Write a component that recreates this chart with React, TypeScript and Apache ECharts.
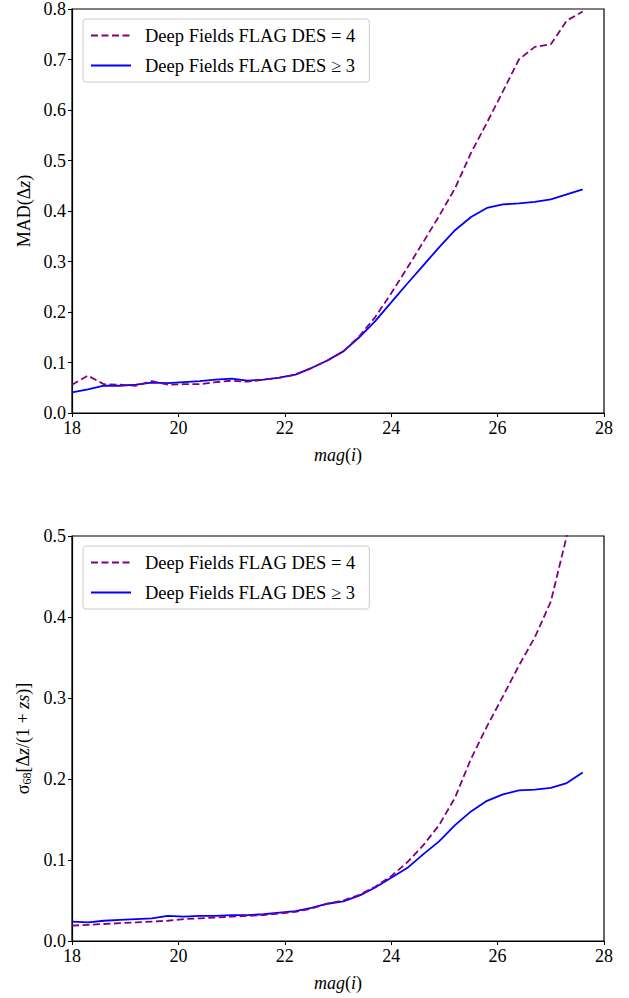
import React, { useEffect, useRef } from "react";
import * as echarts from "echarts";

// magnitude bins (0.3 mag steps)
const mags = [
  18.0, 18.3, 18.6, 18.9, 19.2, 19.5, 19.8, 20.1, 20.4, 20.7, 21.0, 21.3, 21.6,
  21.9, 22.2, 22.5, 22.8, 23.1, 23.4, 23.7, 24.0, 24.3, 24.6, 24.9, 25.2, 25.5,
  25.8, 26.1, 26.4, 26.7, 27.0, 27.3, 27.6,
];

const NAME_FLAG4 = "Deep Fields FLAG DES = 4";
const NAME_FLAG3 = "Deep Fields FLAG DES \u2265 3";

// top panel: MAD(Δz)
const madFlag4 = [
  0.056, 0.074, 0.057, 0.056, 0.054, 0.063, 0.056, 0.057, 0.057, 0.061, 0.064,
  0.062, 0.066, 0.07, 0.076, 0.089, 0.104, 0.122, 0.152, 0.19, 0.237, 0.287,
  0.338, 0.39, 0.445, 0.515, 0.575, 0.637, 0.7, 0.725, 0.73, 0.777, 0.795,
];
const madFlag3 = [
  0.041, 0.047, 0.054, 0.054, 0.056, 0.06, 0.059, 0.061, 0.063, 0.066, 0.068,
  0.064, 0.066, 0.07, 0.076, 0.089, 0.104, 0.122, 0.15, 0.182, 0.219, 0.256,
  0.292, 0.328, 0.362, 0.388, 0.406, 0.413, 0.415, 0.418, 0.423, 0.433, 0.443,
];

// bottom panel: sigma68
const sigFlag4 = [
  0.019, 0.02, 0.021, 0.022, 0.023, 0.024, 0.025, 0.027, 0.028, 0.029, 0.03,
  0.031, 0.032, 0.034, 0.036, 0.04, 0.046, 0.05, 0.057, 0.067, 0.08, 0.097,
  0.118, 0.143, 0.177, 0.225, 0.265, 0.302, 0.34, 0.375, 0.419, 0.5, 0.58,
];
const sigFlag3 = [
  0.024, 0.023, 0.025, 0.026, 0.027, 0.028, 0.031, 0.03, 0.031, 0.031, 0.032,
  0.032, 0.033, 0.035, 0.037, 0.041, 0.046, 0.049, 0.056, 0.066, 0.078, 0.09,
  0.107, 0.123, 0.143, 0.16, 0.173, 0.181, 0.186, 0.187, 0.189, 0.195, 0.208,
];

const xTicks = { min: 18, max: 28, interval: 2 };

const FONT = "'Liberation Serif', 'Times New Roman', 'DejaVu Serif', serif";
const purple = "#800080";
const blue = "#0000ff";

const pairs = (ys: number[]) => mags.map((m, i) => [m, ys[i]]);

const App: React.FC = () => {
  const chartRef = useRef<HTMLDivElement>(null);

  useEffect(() => {
    if (!chartRef.current) return;
    const chart = echarts.init(chartRef.current, undefined, { renderer: "svg" });

    const labelStyle = { color: "#000", fontFamily: FONT, fontSize: 18 };
    const axisLine = { show: true, lineStyle: { color: "#000", width: 1.2 } };
    const axisTick = { show: true, inside: false, length: 4, lineStyle: { color: "#000", width: 1 } };

    const xAxis = (gridIndex: number) => ({
      type: "value",
      gridIndex,
      ...xTicks,
      name: "{i|mag}{n|(}{i|i}{n|)}",
      nameLocation: "middle",
      nameGap: 33,
      nameTextStyle: {
        ...labelStyle,
        rich: {
          i: { fontFamily: FONT, fontSize: 18, fontStyle: "italic", color: "#000" },
          n: { fontFamily: FONT, fontSize: 18, color: "#000" },
        },
      },
      axisLine,
      axisTick,
      splitLine: { show: false },
      axisLabel: { ...labelStyle, margin: 6 },
    });

    const yAxis = (gridIndex: number, max: number, name: string) => ({
      type: "value",
      gridIndex,
      min: 0,
      max,
      interval: 0.1,
      name,
      nameLocation: "middle",
      nameGap: 39,
      nameTextStyle: {
        ...labelStyle,
        rich: {
          n: { fontFamily: FONT, fontSize: 18, color: "#000" },
          i: { fontFamily: FONT, fontSize: 18, fontStyle: "italic", color: "#000" },
          sub: { fontFamily: FONT, fontSize: 12, color: "#000", verticalAlign: "bottom", padding: [8, 0, 0, 0] },
        },
      },
      axisLine,
      axisTick,
      splitLine: { show: false },
      axisLabel: { ...labelStyle, margin: 6, formatter: (v: number) => v.toFixed(1) },
    });

    const legend = (top: number) => ({
      left: 83,
      top,
      orient: "vertical",
      data: [NAME_FLAG4, NAME_FLAG3],
      itemWidth: 40,
      itemHeight: 14,
      itemGap: 11,
      padding: [7, 14, 7, 7],
      backgroundColor: "rgba(255,255,255,0.8)",
      borderColor: "#cccccc",
      borderWidth: 1,
      borderRadius: 3,
      selectedMode: false,
      itemStyle: { opacity: 0 },
      textStyle: { ...labelStyle, fontSize: 18.5, padding: [0, 0, 0, 9] },
    });

    const series = (name: string, ys: number[], idx: number, dashed: boolean) => ({
      name,
      type: "line",
      xAxisIndex: idx,
      yAxisIndex: idx,
      data: pairs(ys),
      symbol: "none",
      showSymbol: false,
      clip: true,
      lineStyle: dashed
        ? { color: purple, width: 1.8, type: [7, 3.5] }
        : { color: blue, width: 1.8, type: "solid" },
      itemStyle: { color: dashed ? purple : blue },
      z: dashed ? 3 : 2,
    });

    chart.setOption({
      animation: false,
      backgroundColor: "#fff",
      grid: [
        { left: 72, top: 9, width: 532, height: 404, show: true, borderColor: "#000", borderWidth: 1.2, backgroundColor: "transparent" },
        { left: 72, top: 536, width: 532, height: 405, show: true, borderColor: "#000", borderWidth: 1.2, backgroundColor: "transparent" },
      ],
      xAxis: [xAxis(0), xAxis(1)],
      yAxis: [
        yAxis(0, 0.8, "{n|MAD(\u0394}{i|z}{n|)}"),
        yAxis(1, 0.5, "{n|\u03c3}{sub|68}{n|[\u0394}{i|z}{n|/(1 + }{i|zs}{n|)]}"),
      ],
      legend: [legend(19), legend(546)],
      series: [
        series(NAME_FLAG3, madFlag3, 0, false),
        series(NAME_FLAG4, madFlag4, 0, true),
        series(NAME_FLAG3, sigFlag3, 1, false),
        series(NAME_FLAG4, sigFlag4, 1, true),
      ],
    });

    return () => {
      chart.dispose();
    };
  }, []);

  return (
    <div
      ref={chartRef}
      style={{ position: "fixed", left: 0, top: 0, width: 629, height: 998 }}
    />
  );
};

export default App;
